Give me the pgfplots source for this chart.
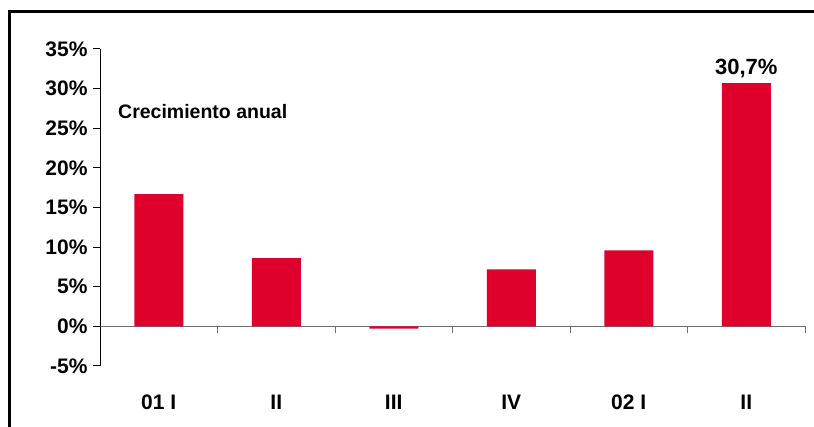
\documentclass[border=0pt]{standalone}
\usepackage{fontspec}
\setmainfont{Liberation Sans}
\usepackage{pgfplots}
\pgfplotsset{compat=1.18}
\definecolor{barred}{RGB}{224,0,44}
\definecolor{axgray}{RGB}{110,110,110}
\begin{document}
\begin{tikzpicture}[x=1pt,y=1pt]
\useasboundingbox (0,0) rectangle (814,427);
\draw[line width=2.5pt] (9.5,-5) -- (9.5,415.5) -- (820,415.5);
\begin{axis}[
 at={(100pt,61pt)}, anchor=south west,
 scale only axis, width=705pt, height=317pt,
 xmin=-0.5, xmax=5.5, ymin=-5, ymax=35,
 axis x line=middle, axis y line=left,
 axis line style={-},
 x axis line style={axgray, line width=1pt},
 y axis line style={black, line width=1pt},
 xtick={0,...,5}, xticklabels={01 I,II,III,IV,02 I,II},
 minor xtick={-0.5,0.5,...,5.5},
 major x tick style={draw=none},
 minor x tick style={axgray, line width=1pt},
 ytick style={black, line width=1pt},
 xtick align=outside, ytick align=outside,
 minor tick length=7pt, major tick length=7pt,
 ytick={-5,0,...,35},
 yticklabel={\pgfmathprintnumber{\tick}\%},
 /pgf/number format/assume math mode=true,
 ticklabel style={font=\bfseries\fontsize{21}{21}\selectfont},
 xticklabel style={yshift=-58pt},
 yticklabel style={xshift=-2pt},
 clip=false,
]
\addplot[ybar, fill=barred, draw=none, bar width=49pt] coordinates {(0,16.7)(1,8.6)(2,-0.3)(3,7.2)(4,9.6)(5,30.7)};
\node[anchor=base, font=\bfseries\fontsize{22}{22}\selectfont, yshift=9pt] at (axis cs:5,30.7) {30,7\%};
\end{axis}
\node[anchor=west, font=\bfseries\fontsize{19.5}{19.5}\selectfont, inner sep=0pt] at (118,315) {Crecimiento anual};
\end{tikzpicture}
\end{document}
